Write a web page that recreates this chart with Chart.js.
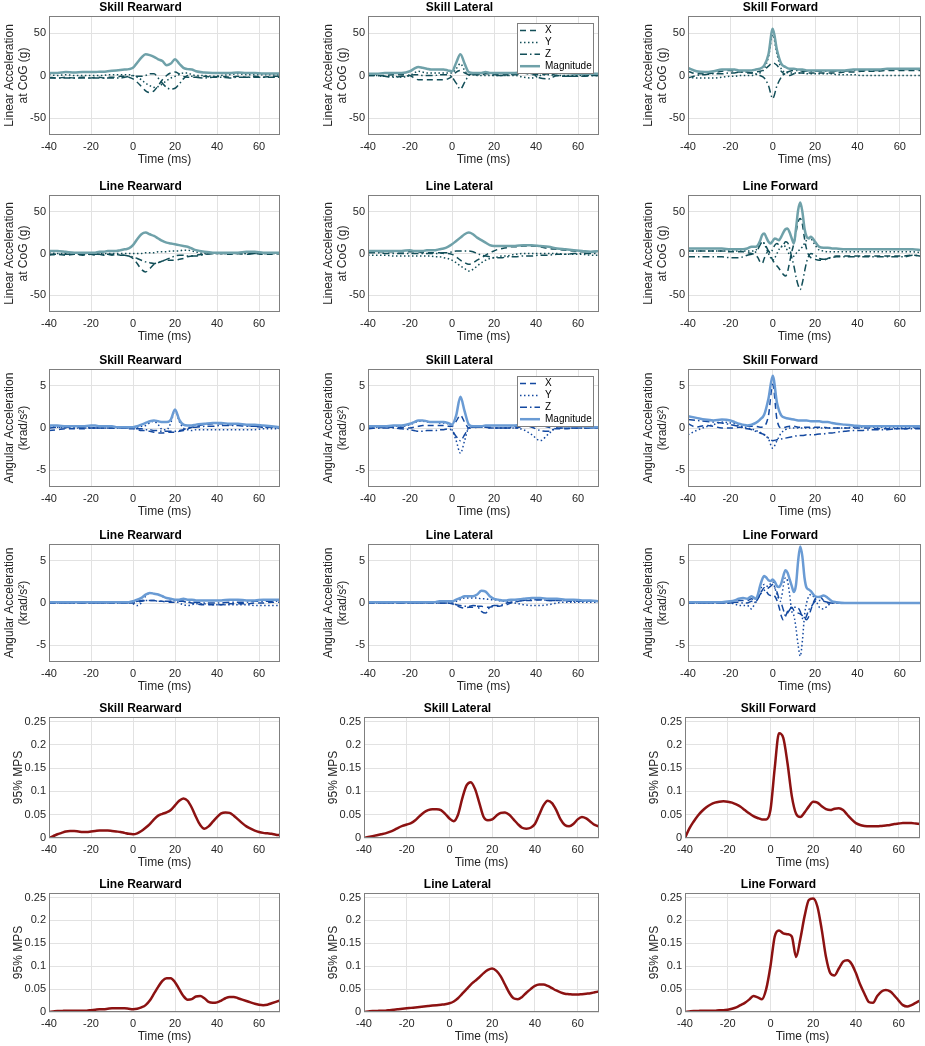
<!DOCTYPE html>
<html>
<head>
<meta charset="utf-8">
<script src="https://cdn.jsdelivr.net/npm/chart.js@4.4.1/dist/chart.umd.min.js"></script>
<style>
  html, body { margin: 0; padding: 0; background: #fff; }
  #fig { position: relative; width: 925px; height: 1046px; overflow: hidden; }
  #fig canvas { position: absolute; }
</style>
</head>
<body>
<div id="fig"></div>
<script>
// ---- time bases (ms) ----
const tAcc = [-40,-36,-32,-28,-24,-20,-18,-16,-14,-12,-10,-8,-6,-4,-2,0,2,4,6,8,10,12,14,16,18,20,22,24,26,28,30,34,38,42,46,50,54,58,62,66,70];
const tFine = [-40,-36,-32,-28,-24,-20,-18,-16,-14,-12,-10,-8,-7,-6,-5,-4,-3,-2,-1,0,1,2,3,4,5,6,7,8,9,10,11,12,13,14,15,16,17,18,20,22,24,26,28,30,34,38,42,46,50,54,58,62,66,70];
const tMps = [-40,-38,-36,-34,-32,-30,-28,-26,-24,-22,-20,-18,-16,-14,-12,-10,-8,-6,-4,-2,0,2,4,6,8,10,12,14,16,18,20,22,24,26,28,30,32,34,36,38,40,42,44,46,48,50,52,54,56,58,60,62,64,66,68,70];

const xTicks = [-40, -20, 0, 20, 40, 60];
const linTicks = [-50, 0, 50];
const angTicks = [-5, 0, 5];
const mpsTicks = [0, 0.05, 0.1, 0.15, 0.2, 0.25];
const seriesLabels = ["X", "Y", "Z", "Magnitude"];

// ---- linear acceleration at CoG (g) ----
const linSkillRearX = [-2,-3,-2,-3,-2, -3,-2,-2,-3,-2,-2,-2,-1,-1,-2, -4, -8,-13,-18,-20,-18,-12,-5,0,3,4,2,-1,-2,-2,-2, -1,-2,-1,-2,-1,-2,-1,-2,-1,-1];
const linSkillRearY = [1,0,1,0,0, 0,0,0,0,1,1,1,1,1,1, 0, -2,-5,-9,-12,-14,-13,-10,-6,-3,-1,1,3,3,1,0, 0,-1,0,1,2,1,1,1,1,1];
const linSkillRearZ = [-3,-3,-3,-3,-3, -3,-3,-3,-3,-3,-3,-3,-3,-2,-1, 0, -1,-1,0,2,2,-3,-9,-14,-16,-15,-10,-4,0,-1,-2, -3,-2,-2,-3,-2,-2,-2,-2,-2,-2];
const linSkillRearMag = [3,3,4,3.5,4, 4,4,4.5,4.5,5,5.5,6,6.5,7,7.5, 9, 15,21,25,24,22,19,17,12,14,19,14,9,7.5,7,5, 3.5,3,3,3,3.5,3,3,2.5,2.5,2.5];

const linSkillLatX = [0,0,0,1,1, 0,-3,-5,-5,-5,-5,-5,-5,-5,-4, -1, 4,6,3,1,1,1,1,2,2,1,1,1,1,1,1, 3,1,1,2,0,-1,-1,-1,0,0];
const linSkillLatY = [1,0,-1,-1,-2, 0,3,5,4,3,3,3,3,3,3, 3, 8,14,6,1,1,0,0,0,0,0,0,0,0,0,0, -2,-3,0,1,0,0,0,0,0,0];
const linSkillLatZ = [0,0,-1,-2,-1, 0,1,1,0,0,0,0,1,1,1, -2, -9,-16,-8,0,2,1,2,3,2,0,0,0,0,1,2, 4,2,-3,-4,0,-1,-1,-1,0,0];
const linSkillLatMag = [2,2,3,3,3, 5,8,10,9,8,7,7,7,7,6, 5, 15,25,14,4,3,3,3,4,3,3,3,3,3,3,3, 4,5,4,5,3,3,2,2,2,2];

const linSkillFwdX = [5,2,2,3,5, 6,5,4,4,3,3,4,5,7,11, 15, 12,5,1,0,2,3,3,3,3,3,3,3,3,3,3, 4,4,5,5,5,6,6,6,6,6];
const linSkillFwdY = [-2,-3,-3,-3,-2, -1,-1,0,0,0,0,1,3,8,22, 48, 25,8,4,3,3,3,3,2,2,2,2,2,2,2,1, 1,1,0,0,0,0,0,0,0,0];
const linSkillFwdZ = [-3,0,1,2,2, 3,3,4,4,4,3,2,0,-3,-12, -27, -12,-2,3,5,6,6,5,5,5,5,5,5,5,5,5, 5,6,6,6,6,7,7,7,7,7];
const linSkillFwdMag = [9,5,4,5,7, 7,7,6,6,6,6,7,8,12,25, 55, 30,14,10,8,8,7,7,6,6,6,6,6,6,6,6, 6,7,7,7,7,8,8,8,8,8];

const linLineRearX = [-2,-1,-2,-1,-2, -1,-2,-1,-2,-1,-2,-1,-2,-2,-3, -6, -12,-19,-22,-18,-13,-11,-9,-8,-8,-8,-7,-6,-4,-3,-2, -1,0,0,-1,0,-1,0,-1,-1,0];
const linLineRearY = [1,0,0,0,0, 0,0,0,0,0,0,0,0,0,0, 0, 0,0,1,1,1,2,2,2,3,3,3,4,4,3,2, 0,0,0,0,0,0,0,0,0,0];
const linLineRearZ = [-1,-1,-1,-1,-1, -1,-1,-1,-1,-1,-1,-1,-2,-2,-3, -4, -6,-8,-10,-11,-12,-11,-9,-7,-5,-3,-2,-2,-3,-3,-3, -1,0,0,0,0,0,0,0,0,0];
const linLineRearMag = [3,3,2,1,1, 1,1,2,2,3,3,3,4,5,6, 10, 17,23,25,23,21,18,15,13,12,11,10,9,8,6,4, 2,1,1,1,1,2,2,1,1,1];

const linLineLatX = [2,2,2,2,2, 2,2,2,1,1,1,1,1,0,0, -1, -4,-8,-11,-13,-11,-8,-5,-2,1,3,5,6,7,8,8, 9,9,8,6,5,4,3,2,2,2];
const linLineLatY = [-2,-2,-2,-3,-3, -3,-3,-3,-3,-3,-3,-4,-4,-5,-6, -8, -11,-15,-18,-21,-19,-15,-11,-8,-6,-5,-4,-3,-3,-2,-1, 0,0,0,0,0,-1,-1,-1,-2,-2];
const linLineLatZ = [1,1,0,0,0, 0,0,0,0,0,0,0,0,1,1, 2, 3,3,3,3,2,0,-2,-3,-4,-5,-5,-5,-4,-4,-4, -3,-3,-2,-2,-1,-1,0,0,0,0];
const linLineLatMag = [3,3,3,3,3, 4,3,3,3,4,4,4,5,6,8, 11, 15,19,23,25,23,19,16,13,10,9,9,9,9,9,9, 10,10,9,8,6,5,4,3,2,3];

const linLineFwdX = [3,3,3,3,3,2,2,2,2,1,0,-2, -5,-10,-12,-6,0,3,-2,-8,-12,-15,-18,-22,-25,-27,-22,-10,2,12,25,38,42,35,18,5,-2,-5, -7,-8,-8,-6,-4,-3, -3,-3,-3,-3,-3,-3,-3,-3,-2,-3];
const linLineFwdY = [3,3,3,3,3,3,3,3,3,3,3,4, 7,11,14,12,6,0,-5,-8,-5,0,5,8,10,8,3,-2,-5,-3,0,3,5,8,12,16,19,18, 10,4,3,2,2,2, 2,2,2,2,2,2,2,2,2,1];
const linLineFwdZ = [-4,-4,-4,-4,-4,-5,-5,-5,-4,-2,-1,2, 5,10,14,12,8,3,1,5,10,12,10,8,10,14,13,6,-5,-15,-28,-38,-43,-35,-22,-10,-3,0, -2,-6,-7,-6,-5,-4, -4,-4,-4,-4,-4,-4,-4,-4,-2,-3];
const linLineFwdMag = [6,6,6,6,6,5,5,5,5,6,8,8, 10,15,22,24,19,14,12,15,18,17,16,20,25,29,30,25,18,12,30,52,61,50,30,20,18,20, 14,8,7,7,6,6, 5,5,5,5,5,5,5,5,5,4];

// ---- angular acceleration (krad/s^2) ----
const angSkillRearX = [-0.3,-0.2,-0.1,-0.1,-0.1, 0,0,0,0,0,0,0,0,0,-0.1, -0.1, -0.2,-0.3,-0.3,-0.4,-0.5,-0.6,-0.6,-0.5,-0.5,-0.5,-0.4,-0.3,-0.1,0.1,0.2, 0.4,0.5,0.5,0.4,0.4,0.3,0.2,0.1,0.1,0];
const angSkillRearY = [0.2,0.1,0,0,0, 0,0,0,0,0,0,0,0,0,0, 0, 0.1,0.2,0.3,0.6,0.8,0.4,-0.2,-0.2,0.6,2.1,0.8,0,-0.2,-0.3,-0.2, -0.2,-0.2,-0.2,-0.2,-0.2,-0.2,-0.2,-0.1,-0.1,-0.1];
const angSkillRearZ = [0,0.1,0.1,0.1,0.1, 0,0,0,0,0,0,0,0,0,0, 0, -0.1,-0.1,-0.2,-0.2,-0.3,-0.3,-0.4,-0.4,-0.4,-0.4,-0.3,-0.2,0,0.1,0.1, 0.2,0.2,0.3,0.3,0.3,0.2,0.2,0.1,0.1,0];
const angSkillRearMag = [0.3,0.3,0.2,0.2,0.2, 0.3,0.3,0.2,0.2,0.2,0.2,0.1,0.1,0.1,0.1, 0.1, 0.2,0.4,0.6,0.8,0.9,0.8,0.7,0.7,1.0,2.2,1.0,0.4,0.3,0.3,0.4, 0.5,0.6,0.6,0.5,0.5,0.4,0.4,0.3,0.2,0.1];

const angSkillLatX = [0,0,0.1,0.1,0.1, 0,0.1,0.2,0.3,0.3,0.3,0.3,0.3,0.3,0.2, 0.2, 0.8,1.5,0.7,0,0,0.1,0.1,0.1,0.1,0,0,0,0,0,0, 0.2,0.2,0.3,0.1,-0.1,-0.1,0,0,0,0];
const angSkillLatY = [0.1,0.1,0.1,0.2,0.2, 0.4,0.6,0.8,0.8,0.7,0.7,0.7,0.6,0.6,0.5, -0.2, -1.5,-3.0,-1.5,0,0.1,0.1,0.1,0.1,0,0,0,0,0,0,0, -0.2,-0.8,-1.5,-0.7,0,0,0,0,0,0];
const angSkillLatZ = [-0.1,0,0,0,-0.1, -0.2,-0.3,-0.4,-0.4,-0.3,-0.3,-0.3,-0.2,-0.2,-0.1, -0.3, -1.0,-1.5,-0.8,0,0.1,0.1,0.1,0.1,0,0,0,0,0,0.1,0.2, 0.3,0.1,-0.3,-0.4,0,0,0,0,0,0];
const angSkillLatMag = [0.2,0.2,0.2,0.3,0.3, 0.5,0.7,0.9,0.9,0.8,0.7,0.7,0.7,0.7,0.6, 0.4, 1.5,3.7,2.0,0.4,0.2,0.2,0.2,0.3,0.3,0.3,0.3,0.3,0.3,0.3,0.3, 0.5,0.4,0.4,0.4,0.3,0.2,0.2,0.2,0.1,0.1];

const angSkillFwdX = [0.5,0.1,0.3,0.2,0, 0,0,0.1,0.1,0.2,0.2,0.2,0.1,0.2,1.5, 5.2, 1.0,0,0.1,0.2,0.2,0.1,0.1,0.1,0.1,0.1,0.1,0.1,0,0,0, 0,0,0,0,-0.1,-0.1,-0.1,-0.1,0,0];
const angSkillFwdY = [-0.8,-0.3,0.1,0.4,0.7, 0.6,0.5,0.3,0.2,0,-0.1,-0.3,-0.5,-0.8,-1.3, -2.4, -1.5,-0.6,-0.2,0,0,0,0,0,0,0,0,0,0,0,0, 0,0.1,0.1,0.1,0.1,0.1,0.1,0.1,0.1,0.2];
const angSkillFwdZ = [1.0,0.9,0.8,0.7,0.6, 0.4,0.3,0.2,0,-0.1,-0.2,-0.4,-0.6,-0.8,-1.2, -1.5, -1.4,-1.3,-1.2,-1.1,-1.0,-0.9,-0.9,-0.8,-0.8,-0.8,-0.7,-0.7,-0.6,-0.6,-0.5, -0.4,-0.3,-0.3,-0.2,-0.2,-0.2,-0.1,-0.1,-0.1,-0.1];
const angSkillFwdMag = [1.4,1.2,1.0,0.9,1.0, 0.9,0.7,0.5,0.4,0.3,0.4,0.6,1.0,1.6,3.5, 6.2, 3.0,1.5,1.2,1.1,1.0,0.9,0.9,0.9,0.8,0.8,0.8,0.7,0.7,0.6,0.5, 0.4,0.3,0.2,0.2,0.2,0.2,0.2,0.2,0.2,0.2];

const angLineRearX = [0,0,0,0,0, 0,0,0,0,0,0,0,0,0,0, 0, 0.1,0.2,0.3,0.3,0.3,0.2,0.2,0.1,0.1,0.1,0.2,0.2,0.1,0,-0.1, -0.2,-0.2,-0.2,-0.1,-0.1,-0.1,0,0,0.1,0.1];
const angLineRearY = [0,0,0,0,0, 0,0,0,0,0,0,0,0,0,0, -0.1, -0.3,0,0.8,1.2,1.1,1.0,0.8,0.6,0.4,0.3,0,-0.2,-0.3,-0.2,-0.1, -0.1,-0.2,-0.2,-0.2,-0.2,-0.2,-0.3,-0.3,-0.3,-0.3];
const angLineRearZ = [0,0,0,0,0, 0,0,0,0,0,0,0,0,0,0, 0.1, 0.2,0.3,0.3,0.3,0.3,0.2,0.2,0.2,0.2,0.3,0.3,0.2,0.1,0.1,0.1, 0,0,0,0.1,0.1,0.1,0.2,0.2,0.2,0.2];
const angLineRearMag = [0.1,0.1,0.1,0.1,0.1, 0.1,0.1,0.1,0.1,0.1,0.1,0.1,0.1,0.1,0.1, 0.2, 0.4,0.6,1.0,1.2,1.1,1.0,0.8,0.6,0.5,0.4,0.4,0.5,0.4,0.4,0.3, 0.3,0.3,0.3,0.4,0.4,0.3,0.3,0.4,0.4,0.4];

const angLineLatX = [0,0,0,0,0, 0,0,0,0,0,0,0,0,0,0, -0.1, -0.3,-0.5,-0.6,-0.5,-0.5,-0.4,-0.4,-0.5,-0.5,-0.4,-0.4,-0.3,-0.2,0,0.1, 0.3,0.3,0.4,0.3,0.3,0.3,0.2,0.2,0.2,0.2];
const angLineLatY = [0,0,0,0,0, 0,0,0,0,0,0,0,0,0,0, 0, 0.2,0.4,0.6,0.6,0.6,0.6,0.5,0.5,0.4,0.4,0.3,0.2,0.2,0.1,0, -0.2,-0.3,-0.3,-0.2,0,0.1,0.1,0.1,0.1,0.1];
const angLineLatZ = [0,0,0,0,0, 0,0,0,0,0,0,0,0,0,0, 0, -0.2,-0.3,-0.4,-0.4,-0.3,-0.4,-1.0,-1.2,-0.5,-0.3,-0.3,-0.2,0,0.1,0.2, 0.3,0.4,0.4,0.3,0.3,0.3,0.2,0.2,0.2,0.2];
const angLineLatMag = [0.1,0.1,0.1,0.1,0.1, 0.1,0.1,0.1,0.1,0.1,0.1,0.1,0.2,0.2,0.2, 0.2, 0.4,0.6,0.8,0.8,0.8,1.0,1.45,1.35,0.8,0.5,0.4,0.3,0.3,0.4,0.4, 0.5,0.6,0.6,0.5,0.5,0.4,0.4,0.3,0.3,0.2];

const angLineFwdX = [0,0,0,0,0,0,0.1,0.3,0.3,0.3,0.5,0.2, 0.5,1.0,1.5,1.8,1.4,1.0,0.9,1.0,0.8,0.3,-0.5,-1.5,-2.0,-1.6,-1.0,-0.6,-0.5,-0.9,-1.1,-1.2,-1.3,-1.5,-1.8,-2.0,-1.6,-0.8, 0.5,0.8,0.3,0,0,0, 0,0,0,0,0,0,0,0,0,0];
const angLineFwdY = [0,0,0,0,0,0,-0.1,-0.3,-0.3,-0.3,-0.7,0.3, 0.8,1.5,2.0,2.2,2.0,2.0,2.3,2.5,1.8,1.0,0.5,0.6,2.0,3.0,2.6,1.0,-1.0,-1.5,-3.0,-5.0,-6.3,-4.5,-1.5,0,0.8,1.0, 0.5,-0.5,-0.7,-0.3,0,0, 0,0,0,0,0,0,0,0,0,0];
const angLineFwdZ = [0,0,0,0,0,0,0.1,0.1,0,0,0.2,0.1, 0.5,1.0,1.3,1.5,1.6,1.8,2.0,2.2,1.8,1.3,0.5,0,-0.8,-1.5,-1.2,-0.8,-0.5,-0.5,-0.5,-0.6,-1.0,-1.8,-2.0,-1.5,-0.8,-0.5, 0.2,0.3,0.2,0.1,0,0, 0,0,0,0,0,0,0,0,0,0];
const angLineFwdMag = [0.1,0.1,0.1,0.1,0.1,0.2,0.3,0.5,0.6,0.5,0.8,0.5, 1.0,2.0,2.8,3.2,3.0,2.7,2.6,2.8,2.5,2.0,1.9,2.3,3.2,3.9,3.6,2.8,2.0,1.3,2.2,5.0,6.7,5.5,3.0,1.8,1.6,1.4, 0.8,0.7,0.9,0.6,0.2,0.1, 0,0,0,0,0,0,0,0,0,0];

// ---- 95% MPS ----
const mpsSkillRear = [0,0.004,0.008,0.011,0.014,0.015,0.015,0.014,0.013,0.013, 0.014,0.015,0.016,0.016,0.016,0.015,0.014,0.013,0.011,0.009, 0.008,0.01,0.015,0.022,0.03,0.04,0.048,0.052,0.055,0.06, 0.07,0.08,0.085,0.08,0.065,0.045,0.028,0.02,0.025,0.035, 0.045,0.053,0.055,0.054,0.048,0.04,0.032,0.025,0.02,0.016, 0.013,0.011,0.01,0.009,0.007,0.006];
const mpsSkillLat = [0,0.002,0.004,0.006,0.008,0.01,0.013,0.017,0.022,0.026, 0.029,0.032,0.038,0.047,0.055,0.06,0.062,0.062,0.06,0.052, 0.042,0.036,0.05,0.085,0.113,0.12,0.105,0.075,0.045,0.038, 0.04,0.048,0.054,0.055,0.05,0.04,0.03,0.022,0.02,0.022, 0.03,0.05,0.07,0.08,0.075,0.06,0.04,0.028,0.025,0.03, 0.04,0.045,0.042,0.035,0.028,0.025];
const mpsSkillFwd = [0,0.02,0.035,0.048,0.058,0.066,0.072,0.076,0.078,0.079, 0.078,0.076,0.072,0.067,0.06,0.053,0.047,0.043,0.04,0.04, 0.06,0.15,0.225,0.215,0.16,0.09,0.052,0.045,0.055,0.068, 0.078,0.076,0.068,0.062,0.06,0.063,0.064,0.06,0.05,0.04, 0.032,0.028,0.026,0.025,0.025,0.025,0.026,0.027,0.028,0.03, 0.031,0.032,0.032,0.032,0.031,0.03];
const mpsLineRear = [0,0.001,0.002,0.002,0.003,0.003,0.003,0.003,0.003,0.003, 0.004,0.005,0.006,0.006,0.007,0.008,0.008,0.008,0.008,0.007, 0.006,0.007,0.01,0.015,0.025,0.04,0.055,0.068,0.074,0.074, 0.065,0.05,0.035,0.027,0.028,0.034,0.035,0.03,0.022,0.02, 0.021,0.025,0.03,0.033,0.033,0.03,0.027,0.024,0.021,0.018, 0.016,0.015,0.016,0.019,0.022,0.025];
const mpsLineLat = [0,0.001,0.002,0.002,0.003,0.003,0.004,0.005,0.006,0.007, 0.008,0.009,0.01,0.011,0.012,0.013,0.014,0.015,0.016,0.017, 0.019,0.023,0.03,0.04,0.05,0.06,0.068,0.076,0.085,0.092, 0.095,0.09,0.078,0.06,0.042,0.03,0.028,0.033,0.042,0.05, 0.057,0.06,0.06,0.057,0.052,0.047,0.043,0.04,0.039,0.038, 0.038,0.039,0.04,0.041,0.043,0.045];
const mpsLineFwd = [0,0.001,0.002,0.002,0.003,0.003,0.003,0.003,0.004,0.004, 0.005,0.007,0.01,0.015,0.02,0.027,0.035,0.032,0.028,0.05, 0.1,0.165,0.178,0.172,0.17,0.165,0.12,0.16,0.21,0.245, 0.248,0.23,0.18,0.12,0.085,0.08,0.095,0.11,0.113,0.105, 0.085,0.06,0.04,0.022,0.02,0.035,0.045,0.048,0.045,0.036, 0.025,0.015,0.012,0.015,0.02,0.025];

// ---- layout / style ----
const FONT = "'Liberation Sans', Arial, Helvetica, sans-serif";
const INK = "#262626";
const GRID = "#e2e2e2";
const FRAME = "#7f7f7f";
const TEAL = "#124e58", TEAL_LIGHT = "#6fa1a9";
const BLUE = "#1449a0", BLUE_LIGHT = "#6a9bd4";
const RED = "#8c1212";

const accLeft = [49, 368, 688], accRight = [280, 599, 921];
const mpsLeft = [49, 364, 685], mpsRight = [280, 599, 920];
const rowTop = [16, 195, 369, 544, 717, 893];
const rowBottom = [135, 312, 487, 662, 838, 1012];
const Y_AXIS_W = 48, X_AXIS_H = 34, TITLE_H = 18, PAD_R = 3;

const panels = [
  { row: 0, col: 0, title: "Skill Rearward", kind: "lin", t: tAcc, s: [linSkillRearX, linSkillRearY, linSkillRearZ, linSkillRearMag] },
  { row: 0, col: 1, title: "Skill Lateral", kind: "lin", t: tAcc, s: [linSkillLatX, linSkillLatY, linSkillLatZ, linSkillLatMag], legend: true },
  { row: 0, col: 2, title: "Skill Forward", kind: "lin", t: tAcc, s: [linSkillFwdX, linSkillFwdY, linSkillFwdZ, linSkillFwdMag] },
  { row: 1, col: 0, title: "Line Rearward", kind: "lin", t: tAcc, s: [linLineRearX, linLineRearY, linLineRearZ, linLineRearMag] },
  { row: 1, col: 1, title: "Line Lateral", kind: "lin", t: tAcc, s: [linLineLatX, linLineLatY, linLineLatZ, linLineLatMag] },
  { row: 1, col: 2, title: "Line Forward", kind: "lin", t: tFine, s: [linLineFwdX, linLineFwdY, linLineFwdZ, linLineFwdMag] },
  { row: 2, col: 0, title: "Skill Rearward", kind: "ang", t: tAcc, s: [angSkillRearX, angSkillRearY, angSkillRearZ, angSkillRearMag] },
  { row: 2, col: 1, title: "Skill Lateral", kind: "ang", t: tAcc, s: [angSkillLatX, angSkillLatY, angSkillLatZ, angSkillLatMag], legend: true },
  { row: 2, col: 2, title: "Skill Forward", kind: "ang", t: tAcc, s: [angSkillFwdX, angSkillFwdY, angSkillFwdZ, angSkillFwdMag] },
  { row: 3, col: 0, title: "Line Rearward", kind: "ang", t: tAcc, s: [angLineRearX, angLineRearY, angLineRearZ, angLineRearMag] },
  { row: 3, col: 1, title: "Line Lateral", kind: "ang", t: tAcc, s: [angLineLatX, angLineLatY, angLineLatZ, angLineLatMag] },
  { row: 3, col: 2, title: "Line Forward", kind: "ang", t: tFine, s: [angLineFwdX, angLineFwdY, angLineFwdZ, angLineFwdMag] },
  { row: 4, col: 0, title: "Skill Rearward", kind: "mps", t: tMps, s: [mpsSkillRear] },
  { row: 4, col: 1, title: "Skill Lateral", kind: "mps", t: tMps, s: [mpsSkillLat] },
  { row: 4, col: 2, title: "Skill Forward", kind: "mps", t: tMps, s: [mpsSkillFwd] },
  { row: 5, col: 0, title: "Line Rearward", kind: "mps", t: tMps, s: [mpsLineRear] },
  { row: 5, col: 1, title: "Line Lateral", kind: "mps", t: tMps, s: [mpsLineLat] },
  { row: 5, col: 2, title: "Line Forward", kind: "mps", t: tMps, s: [mpsLineFwd] },
];

const kinds = {
  lin: { min: -70, max: 70, ticks: linTicks, label: ["Linear Acceleration", "at CoG (g)"], labelPad: 1, dark: TEAL, light: TEAL_LIGHT },
  ang: { min: -7, max: 7, ticks: angTicks, label: ["Angular Acceleration", "(krad/s\u00B2)"], labelPad: 1, dark: BLUE, light: BLUE_LIGHT },
  mps: { min: 0, max: 0.26, ticks: mpsTicks, label: "95% MPS", labelPad: 10 },
};

const dashes = [[6, 4], [1.5, 2.5], [7, 3, 1.5, 3], []];

const pts = (t, v) => t.map((x, i) => ({ x: x, y: v[i] }));

// frame round the axes + the small boxed legend
const framePlugin = {
  id: "frame",
  afterDatasetsDraw(chart, args, opts) {
    const { ctx, chartArea: a } = chart;
    ctx.save();
    ctx.setLineDash([]);
    ctx.strokeStyle = FRAME;
    ctx.lineWidth = 1;
    const l = Math.round(a.left), t = Math.round(a.top);
    ctx.strokeRect(l + 0.5, t + 0.5, Math.round(a.right) - l - 1, Math.round(a.bottom) - t - 1);
    if (opts.legend) {
      const w = 76, h = 50;
      const x0 = Math.round(a.right) - 6 - w, y0 = t + 7;
      ctx.fillStyle = "#fff";
      ctx.fillRect(x0, y0, w, h);
      ctx.strokeStyle = FRAME;
      ctx.strokeRect(x0 + 0.5, y0 + 0.5, w, h);
      ctx.font = "10px " + FONT;
      ctx.textBaseline = "middle";
      chart.data.datasets.forEach((ds, i) => {
        const y = y0 + 7.5 + i * 11.9;
        ctx.beginPath();
        ctx.strokeStyle = ds.borderColor;
        ctx.lineWidth = ds.borderWidth;
        ctx.setLineDash(ds.borderDash || []);
        ctx.moveTo(x0 + 3, y);
        ctx.lineTo(x0 + 23, y);
        ctx.stroke();
        ctx.setLineDash([]);
        ctx.fillStyle = "#000";
        ctx.fillText(ds.label, x0 + 28, y);
      });
    }
    ctx.restore();
  },
};

const fig = document.getElementById("fig");

function makeChart(p) {
  const k = kinds[p.kind];
  const isMps = p.kind === "mps";
  const L = (isMps ? mpsLeft : accLeft)[p.col];
  const R = (isMps ? mpsRight : accRight)[p.col];
  const top = rowTop[p.row], bottom = rowBottom[p.row];
  const w = R - L + Y_AXIS_W + PAD_R;
  const h = bottom - top + TITLE_H + X_AXIS_H;

  const canvas = document.createElement("canvas");
  canvas.width = w;
  canvas.height = h;
  canvas.style.left = (L - Y_AXIS_W) + "px";
  canvas.style.top = (top - TITLE_H) + "px";
  canvas.style.width = w + "px";
  canvas.style.height = h + "px";
  fig.appendChild(canvas);

  let datasets;
  if (isMps) {
    datasets = [{
      label: "95% MPS",
      data: pts(p.t, p.s[0]),
      borderColor: RED,
      borderWidth: 2.5,
    }];
  } else {
    datasets = p.s.map((vals, i) => ({
      label: seriesLabels[i],
      data: pts(p.t, vals),
      borderColor: i === 3 ? k.light : k.dark,
      borderWidth: i === 3 ? 2.5 : 1.5,
      borderDash: dashes[i],
      order: i === 3 ? -1 : i,
    }));
  }
  datasets.forEach((d) => {
    d.pointRadius = 0;
    d.fill = false;
    d.cubicInterpolationMode = "monotone";
    d.borderJoinStyle = "round";
  });

  const tickFont = { family: FONT, size: 11 };
  const labelFont = { family: FONT, size: 12 };

  new Chart(canvas, {
    type: "line",
    data: { datasets: datasets },
    plugins: [framePlugin],
    options: {
      responsive: false,
      animation: false,
      devicePixelRatio: 1,
      events: [],
      layout: { padding: { left: 0, right: PAD_R, top: 0, bottom: 0 } },
      plugins: {
        legend: { display: false },
        tooltip: { enabled: false },
        frame: { legend: !!p.legend },
        title: {
          display: true,
          text: p.title,
          color: "#000",
          font: { family: FONT, size: 12, weight: "bold" },
          padding: { top: 2, bottom: 1.6 },
        },
      },
      scales: {
        x: {
          type: "linear",
          min: -40,
          max: 70,
          afterBuildTicks: (s) => { s.ticks = xTicks.map((v) => ({ value: v })); },
          afterFit: (s) => { s.height = X_AXIS_H; },
          grid: { color: GRID, drawTicks: false },
          border: { display: false },
          ticks: { font: tickFont, color: INK, padding: 5, maxRotation: 0, autoSkip: false, callback: (v) => String(v) },
          title: { display: true, text: "Time (ms)", font: labelFont, color: INK, padding: { top: 0, bottom: 2 } },
        },
        y: {
          min: k.min,
          max: k.max,
          afterBuildTicks: (s) => { s.ticks = k.ticks.map((v) => ({ value: v })); },
          afterFit: (s) => { s.width = Y_AXIS_W; },
          grid: { color: GRID, drawTicks: false },
          border: { display: false },
          ticks: { font: tickFont, color: INK, padding: 3, autoSkip: false, callback: (v) => String(v) },
          title: { display: true, text: k.label, font: labelFont, color: INK, padding: { top: k.labelPad, bottom: 0 } },
        },
      },
    },
  });
}

panels.forEach(makeChart);
</script>
</body>
</html>
